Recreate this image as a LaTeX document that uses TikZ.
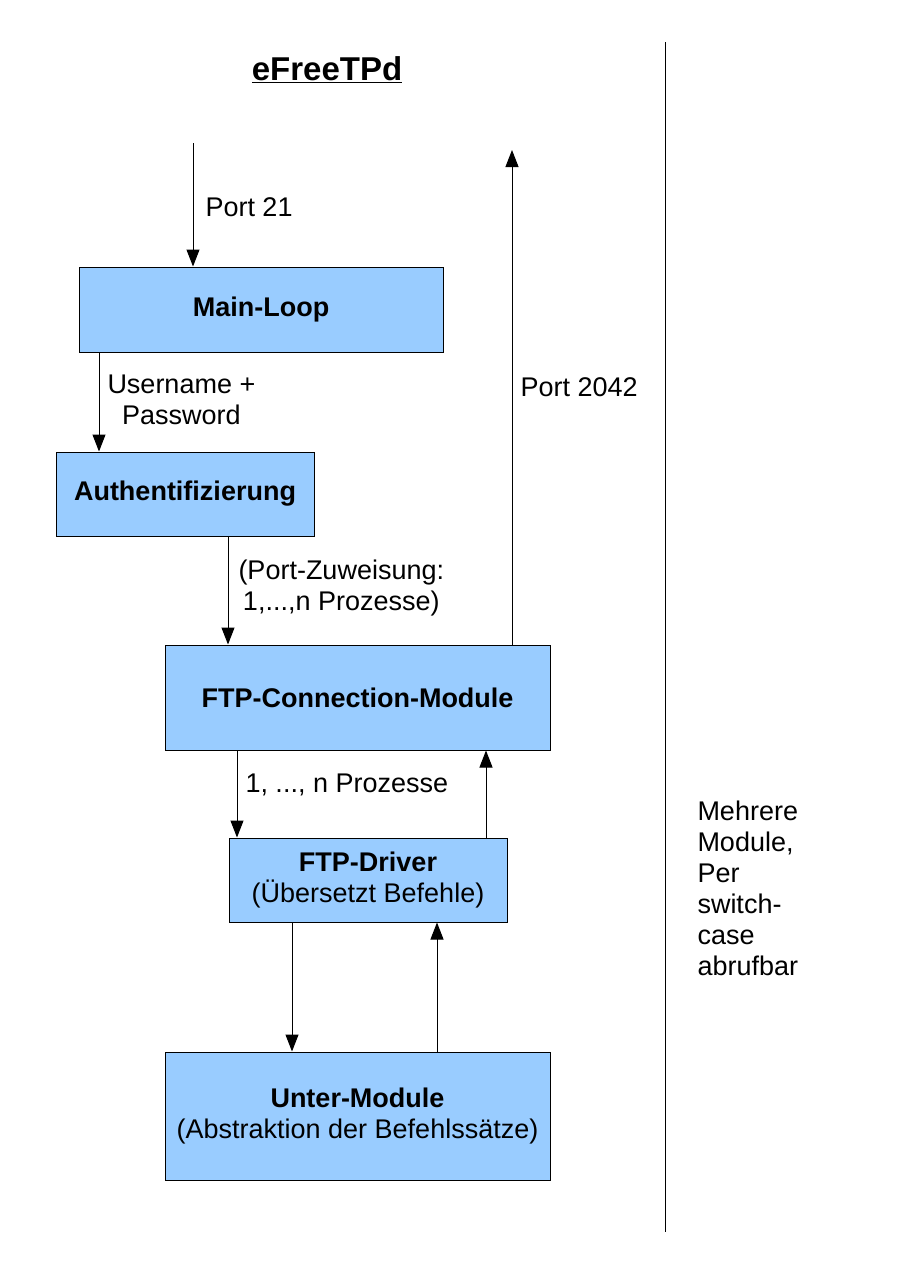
\documentclass[tikz,border=0pt]{standalone}
\usepackage{fontspec}
\setmainfont{Liberation Sans}
\usetikzlibrary{positioning,arrows.meta}
\definecolor{boxblue}{HTML}{99CCFF}
\tikzset{module/.style = {draw, fill=boxblue, line width=1pt, inner sep=0pt, align=center, font=\fontsize{27}{31}\selectfont}}
\tikzset{note/.style = {right, inner sep=0pt, xshift=9pt, align=center, font=\fontsize{27}{31}\selectfont}}

\begin{document}
\begin{tikzpicture}[x=1pt, y=-1pt, >={Triangle[length=17pt, width=13pt]}, line width=1pt]
  \useasboundingbox (0,0) rectangle (901,1275);

  \node [font=\fontsize{33}{38}\selectfont\bfseries] (title) at (327,70) {\underline{eFreeTPd}};

  \node [module, minimum width=364pt, minimum height=85pt] (main) at (261,309.5) {\textbf{Main-Loop}};
  \node [module, minimum width=258pt, minimum height=84pt] (auth) at (185,494) {\textbf{Authentifizierung}};
  \node [module, minimum width=385pt, minimum height=105pt] (conn) at (357.5,697.5) {\textbf{FTP-Connection-Module}};
  \node [module, minimum width=278pt, minimum height=84pt] (driver) at (368,880) {\textbf{FTP-Driver}\\(Übersetzt Befehle)};
  \node [module, minimum width=385pt, minimum height=128pt] (unter) at (357.5,1116) {\textbf{Unter-Module}\\(Abstraktion der Befehlssätze)};

  \coordinate (in) at (193,143);
  \coordinate (out) at (512,150);
  \coordinate (top) at (665,42);
  \coordinate (bottom) at (665,1232);

  \path[->] (in) edge node [note, xshift=3pt, pos=0.52] {Port 21} (in |- main.north);
  \path[->] ([xshift=-162]main.south) edge node [note, xshift=-1pt, pos=0.48] {Username +\\Password} ([xshift=-162]main.south |- auth.north);
  \path[->] ([xshift=43]auth.south) edge node [note, xshift=1pt, pos=0.48] {(Port-Zuweisung:\\1,...,n Prozesse)} ([xshift=43]auth.south |- conn.north);
  \path[->] (conn.north -| out) edge node [note, xshift=-1pt, pos=0.52] {Port 2042} (out);
  \path[->] ([xshift=-120.5]conn.south) edge node [note, xshift=-1pt, pos=0.4] {1, ..., n Prozesse} ([xshift=-120.5]conn.south |- driver.north);
  \path[->] ([xshift=118]driver.north) edge ([xshift=118]driver.north |- conn.south);
  \path[->] ([xshift=-76]driver.south) edge ([xshift=-76]driver.south |- unter.north);
  \path[->] ([xshift=79.5]unter.north) edge ([xshift=79.5]unter.north |- driver.south);

  \draw (top) -- (bottom);
  \node [anchor=north west, inner sep=0pt, align=left, font=\fontsize{27}{31}\selectfont] (hint) at (697,800) {Mehrere\\Module,\\Per\\switch-\\case\\abrufbar};
\end{tikzpicture}
\end{document}
